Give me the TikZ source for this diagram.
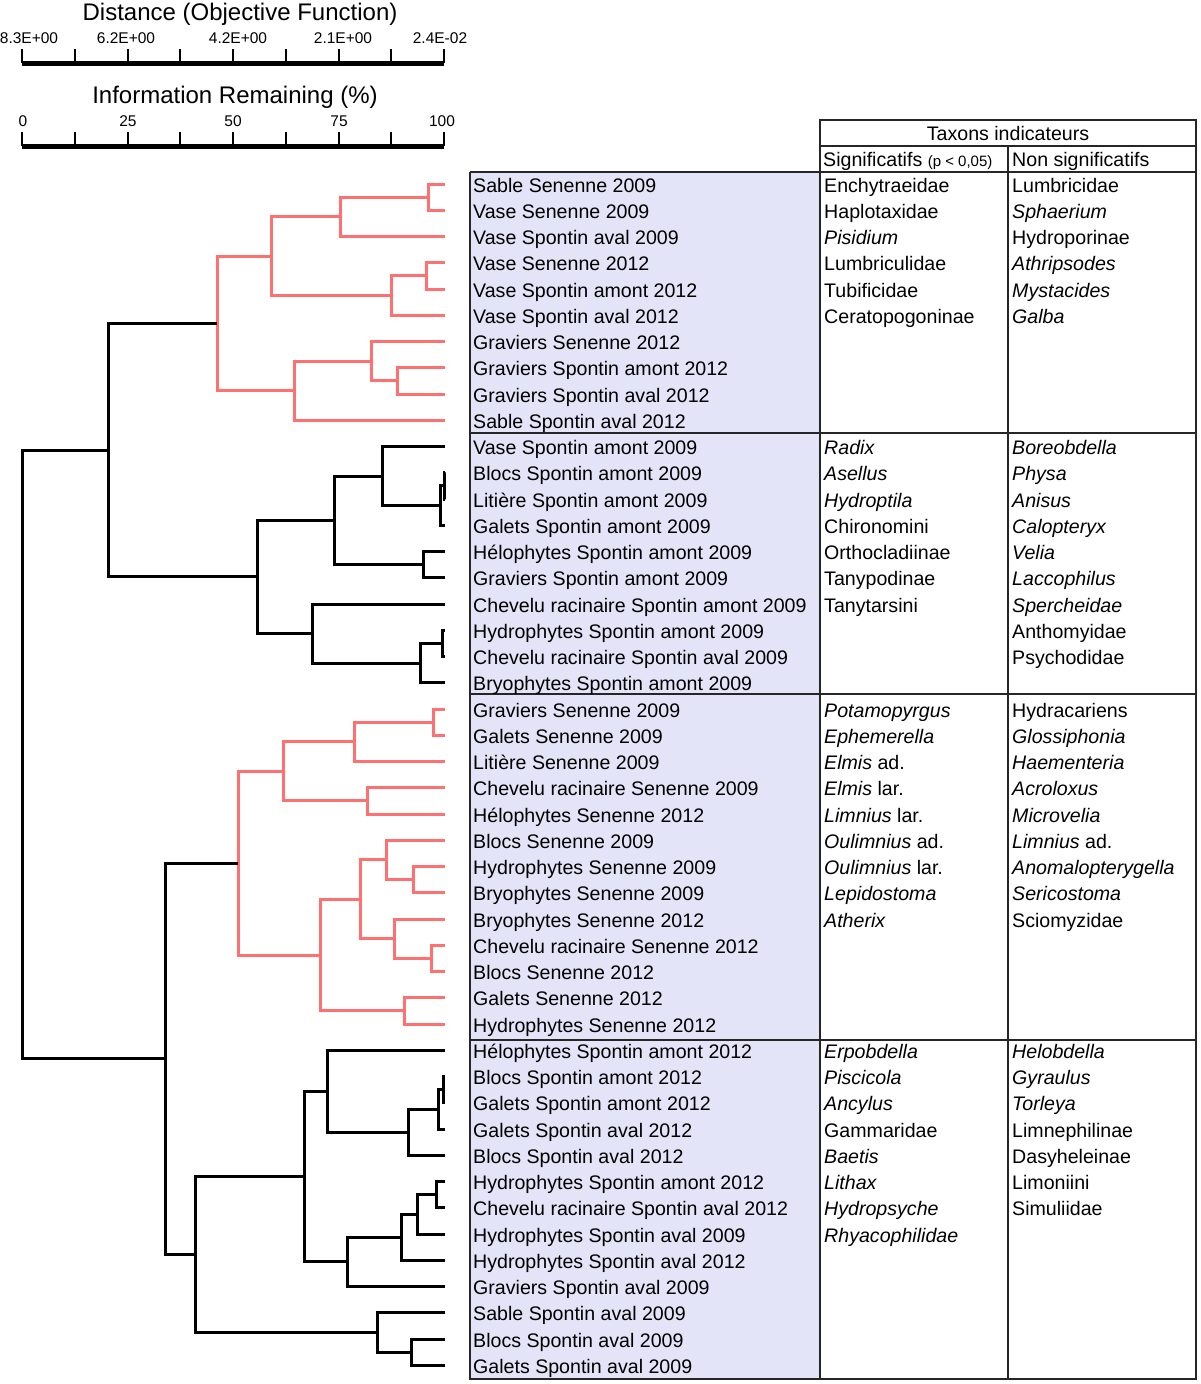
\documentclass[tikz,border=0pt]{standalone}
\usepackage{fontspec}
\setmainfont{Liberation Sans}
\usetikzlibrary{calc}
\definecolor{dendrored}{RGB}{255,112,112}
\definecolor{labelfill}{RGB}{228,228,248}
\tikzset{
  dendro/.style={line width=3pt},
  redtree/.style={dendro,dendrored},
  tabline/.style={line width=1.5pt,black!85},
  axisbar/.style={line width=5pt},
  axistick/.style={line width=2pt},
  axtitle/.style={inner sep=0pt,font=\fontsize{24}{27}\selectfont},
  axlab/.style={inner sep=0pt,font=\fontsize{15.5}{18}\selectfont},
  leaflab/.style={anchor=base west,inner sep=0pt,font=\fontsize{19.6}{22}\selectfont},
}
% cluster: style, name, x of the junction, first child, second child
\newcommand\clust[5][dendro]{%
  \coordinate (tmp) at ($(#4)!.5!(#5)$);
  \coordinate (#2) at (tmp -| #3,0);
  \draw[#1] (#4) -| (#2) |- (#5);}

\begin{document}
\begin{tikzpicture}[x=1pt,y=-1pt]
\useasboundingbox (0,0) rectangle (1200,1384);

% axes
\node[axtitle] (dtitle) at (240,14) {Distance (Objective Function)};
\draw[axisbar] (22,63) -- (444,63);
\foreach \k in {0,...,8} \draw[axistick] (22+52.75*\k,49) -- ++(0,14);
\node[axlab] (d0) at (29,38) {8.3E+00};
\node[axlab] (d1) at (126,38) {6.2E+00};
\node[axlab] (d2) at (238,38) {4.2E+00};
\node[axlab] (d3) at (343,38) {2.1E+00};
\node[axlab] (d4) at (440,38) {2.4E-02};
\node[axtitle] (ititle) at (235,97) {Information Remaining (\%)};
\draw[axisbar] (22,146) -- (444,146);
\foreach \k in {0,...,8} \draw[axistick] (22+52.75*\k,132) -- ++(0,14);
\node[axlab] (i0) at (23,121) {0};
\node[axlab] (i1) at (128,121) {25};
\node[axlab] (i2) at (233,121) {50};
\node[axlab] (i3) at (339,121) {75};
\node[axlab] (i4) at (442,121) {100};

% table
\fill[labelfill] (470,172) rectangle (820,1379);
\draw[tabline] (820,120) rectangle (1196,1379);
\draw[tabline] (820,146) -- (1196,146);
\draw[tabline] (470,172) -- (1196,172);
\draw[tabline] (470,172) -- (470,1379) -- (820,1379);
\draw[tabline] (1008,146) -- (1008,1379);
\foreach \y in {433,694,1040} \draw[tabline] (470,\y) -- (1196,\y);
\node[leaflab,anchor=base] (taxa) at (1008,140) {Taxons indicateurs};
\node[leaflab] (sig) at (823,166) {Significatifs {\fontsize{15}{17}\selectfont(p < 0,05)}};
\node[leaflab] (nonsig) at (1012,166) {Non significatifs};

% leaves and labels
\foreach \s [count=\i from 0] in {Sable Senenne 2009,Vase Senenne 2009,Vase Spontin aval 2009,
  Vase Senenne 2012,Vase Spontin amont 2012,Vase Spontin aval 2012,Graviers Senenne 2012,
  Graviers Spontin amont 2012,Graviers Spontin aval 2012,Sable Spontin aval 2012,
  Vase Spontin amont 2009,Blocs Spontin amont 2009,Litière Spontin amont 2009,
  Galets Spontin amont 2009,Hélophytes Spontin amont 2009,Graviers Spontin amont 2009,
  Chevelu racinaire Spontin amont 2009,Hydrophytes Spontin amont 2009,
  Chevelu racinaire Spontin aval 2009,Bryophytes Spontin amont 2009,
  Graviers Senenne 2009,Galets Senenne 2009,Litière Senenne 2009,
  Chevelu racinaire Senenne 2009,Hélophytes Senenne 2012,Blocs Senenne 2009,
  Hydrophytes Senenne 2009,Bryophytes Senenne 2009,Bryophytes Senenne 2012,
  Chevelu racinaire Senenne 2012,Blocs Senenne 2012,Galets Senenne 2012,
  Hydrophytes Senenne 2012,Hélophytes Spontin amont 2012,Blocs Spontin amont 2012,
  Galets Spontin amont 2012,Galets Spontin aval 2012,Blocs Spontin aval 2012,
  Hydrophytes Spontin amont 2012,Chevelu racinaire Spontin aval 2012,
  Hydrophytes Spontin aval 2009,Hydrophytes Spontin aval 2012,Graviers Spontin aval 2009,
  Sable Spontin aval 2009,Blocs Spontin aval 2009,Galets Spontin aval 2009}{
  \coordinate (l\i) at (445,{184+26.25*\i});
  \node[leaflab] (s\i) at (473,{192+26.25*\i}) {\s};
}

% indicator taxa
\foreach \t/\r in {Enchytraeidae/0,Haplotaxidae/1,\textit{Pisidium}/2,Lumbriculidae/3,
  Tubificidae/4,Ceratopogoninae/5,\textit{Radix}/10,\textit{Asellus}/11,
  \textit{Hydroptila}/12,Chironomini/13,Orthocladiinae/14,Tanypodinae/15,Tanytarsini/16,
  \textit{Potamopyrgus}/20,\textit{Ephemerella}/21,\textit{Elmis} ad./22,
  \textit{Elmis} lar./23,\textit{Limnius} lar./24,\textit{Oulimnius} ad./25,
  \textit{Oulimnius} lar./26,\textit{Lepidostoma}/27,\textit{Atherix}/28,
  \textit{Erpobdella}/33,\textit{Piscicola}/34,\textit{Ancylus}/35,Gammaridae/36,
  \textit{Baetis}/37,\textit{Lithax}/38,\textit{Hydropsyche}/39,\textit{Rhyacophilidae}/40}
  \node[leaflab] (sa\r) at (824,{192+26.25*\r}) {\t};
\foreach \t/\r in {Lumbricidae/0,\textit{Sphaerium}/1,Hydroporinae/2,\textit{Athripsodes}/3,
  \textit{Mystacides}/4,\textit{Galba}/5,\textit{Boreobdella}/10,\textit{Physa}/11,
  \textit{Anisus}/12,\textit{Calopteryx}/13,\textit{Velia}/14,\textit{Laccophilus}/15,
  \textit{Spercheidae}/16,Anthomyidae/17,Psychodidae/18,Hydracariens/20,
  \textit{Glossiphonia}/21,\textit{Haementeria}/22,\textit{Acroloxus}/23,
  \textit{Microvelia}/24,\textit{Limnius} ad./25,\textit{Anomalopterygella}/26,
  \textit{Sericostoma}/27,Sciomyzidae/28,\textit{Helobdella}/33,\textit{Gyraulus}/34,
  \textit{Torleya}/35,Limnephilinae/36,Dasyheleinae/37,Limoniini/38,Simuliidae/39}
  \node[leaflab] (na\r) at (1012,{192+26.25*\r}) {\t};

% group 1
\clust[redtree]{a1}{428}{l0}{l1}
\clust[redtree]{a2}{340}{a1}{l2}
\clust[redtree]{a3}{426}{l3}{l4}
\clust[redtree]{a4}{391}{a3}{l5}
\clust[redtree]{a5}{271}{a2}{a4}
\clust[redtree]{a6}{397}{l7}{l8}
\clust[redtree]{a7}{371}{l6}{a6}
\clust[redtree]{a8}{294}{a7}{l9}
\clust[redtree]{a9}{217}{a5}{a8}
% group 2
\clust{b1}{444}{l11}{l12}
\clust{b2}{440}{b1}{l13}
\clust{b3}{382}{l10}{b2}
\clust{b4}{423}{l14}{l15}
\clust{b5}{334}{b3}{b4}
\clust{b6}{442}{l17}{l18}
\clust{b7}{420}{b6}{l19}
\clust{b8}{312}{l16}{b7}
\clust{b9}{257}{b5}{b8}
\clust{n1}{108}{a9}{b9}
% group 3
\clust[redtree]{c1}{433}{l20}{l21}
\clust[redtree]{c2}{354}{c1}{l22}
\clust[redtree]{c3}{367}{l23}{l24}
\clust[redtree]{c4}{283}{c2}{c3}
\clust[redtree]{c5}{413}{l26}{l27}
\clust[redtree]{c6}{386}{l25}{c5}
\clust[redtree]{c7}{431}{l29}{l30}
\clust[redtree]{c8}{394}{l28}{c7}
\clust[redtree]{c9}{360}{c6}{c8}
\clust[redtree]{c10}{404}{l31}{l32}
\clust[redtree]{c11}{320}{c9}{c10}
\clust[redtree]{c12}{238}{c4}{c11}
% group 4
\clust{d1}{443}{l34}{l35}
\clust{d2}{438}{d1}{l36}
\clust{d3}{408}{d2}{l37}
\clust{d4}{327}{l33}{d3}
\clust{d5}{436}{l38}{l39}
\clust{d6}{417}{d5}{l40}
\clust{d7}{401}{d6}{l41}
\clust{d8}{347}{d7}{l42}
\clust{d9}{304}{d4}{d8}
\clust{d10}{411}{l44}{l45}
\clust{d11}{377}{l43}{d10}
\clust{d12}{195}{d9}{d11}
\clust{n2}{165}{c12}{d12}
\clust{root}{22}{n1}{n2}
\end{tikzpicture}
\end{document}
